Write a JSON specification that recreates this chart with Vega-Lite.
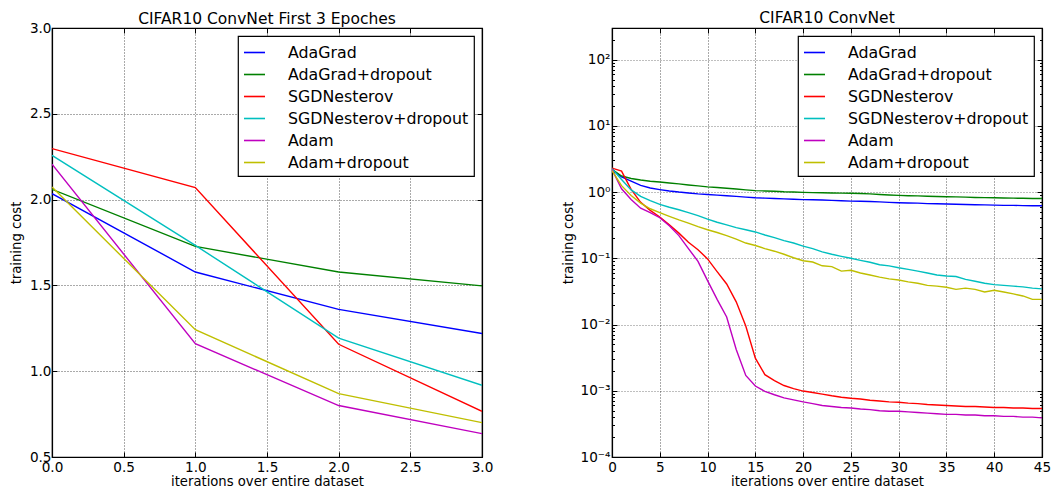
{
  "$schema": "https://vega.github.io/schema/vega-lite/v6.json",
  "padding": {"left": 8, "top": 10, "right": 0, "bottom": 0},
  "background": "#ffffff",
  "config": {
    "font": "DejaVu Sans",
    "view": {"stroke": "#000000", "strokeWidth": 1.2},
    "title": {"font": "DejaVu Sans", "fontSize": 15.5, "fontWeight": "normal", "color": "#000000", "anchor": "middle", "baseline": "alphabetic", "frame": "group"},
    "axis": {
      "domainColor": "#000000", "domainWidth": 1.2,
      "tickColor": "#000000", "tickSize": -5, "tickWidth": 1,
      "labelFont": "DejaVu Sans", "labelFontSize": 13.6, "labelColor": "#000000", "labelPadding": 8, "labelFlush": false,
      "titleFont": "DejaVu Sans", "titleFontSize": 13.2, "titleFontWeight": "normal", "titleColor": "#000000",
      "gridColor": "#000000", "gridDash": [1, 2], "gridOpacity": 0.75, "gridWidth": 0.9
    },
    "legend": {
      "orient": "top-right", "offset": 8, "fillColor": "#ffffff", "strokeColor": "#000000", "strokeWidth": 1.2,
      "padding": 5, "cornerRadius": 0,
      "labelFont": "DejaVu Sans", "labelFontSize": 15.8, "labelColor": "#000000", "labelLimit": 400,
      "symbolType": "stroke", "symbolSize": 441, "symbolStrokeWidth": 1.6, "labelOffset": 22, "rowPadding": 2
    }
  },
  "datasets": {
    "first3": [
      {"epoch": 0, "AdaGrad": 2.035, "AdaGrad+dropout": 2.06, "SGDNesterov": 2.297, "SGDNesterov+dropout": 2.258, "Adam": 2.206, "Adam+dropout": 2.073},
      {"epoch": 1, "AdaGrad": 1.578, "AdaGrad+dropout": 1.727, "SGDNesterov": 2.07, "SGDNesterov+dropout": 1.733, "Adam": 1.16, "Adam+dropout": 1.242},
      {"epoch": 2, "AdaGrad": 1.36, "AdaGrad+dropout": 1.578, "SGDNesterov": 1.157, "SGDNesterov+dropout": 1.193, "Adam": 0.8, "Adam+dropout": 0.869},
      {"epoch": 3, "AdaGrad": 1.22, "AdaGrad+dropout": 1.497, "SGDNesterov": 0.766, "SGDNesterov+dropout": 0.918, "Adam": 0.636, "Adam+dropout": 0.7}
    ],
    "full": [
      {"epoch": 0, "AdaGrad": 2.2, "AdaGrad+dropout": 2.2, "SGDNesterov": 2.3, "SGDNesterov+dropout": 2.25, "Adam": 2.2, "Adam+dropout": 2.1},
      {"epoch": 1, "AdaGrad": 1.69, "AdaGrad+dropout": 1.75, "SGDNesterov": 2.07, "SGDNesterov+dropout": 1.55, "Adam": 1.12, "Adam+dropout": 1.25},
      {"epoch": 2, "AdaGrad": 1.46, "AdaGrad+dropout": 1.6, "SGDNesterov": 1.1, "SGDNesterov+dropout": 1.08, "Adam": 0.77, "Adam+dropout": 0.89},
      {"epoch": 3, "AdaGrad": 1.26, "AdaGrad+dropout": 1.52, "SGDNesterov": 0.7, "SGDNesterov+dropout": 0.86, "Adam": 0.57, "Adam+dropout": 0.68},
      {"epoch": 4, "AdaGrad": 1.15, "AdaGrad+dropout": 1.46, "SGDNesterov": 0.53, "SGDNesterov+dropout": 0.74, "Adam": 0.49, "Adam+dropout": 0.56},
      {"epoch": 5, "AdaGrad": 1.09, "AdaGrad+dropout": 1.42, "SGDNesterov": 0.42, "SGDNesterov+dropout": 0.65, "Adam": 0.41, "Adam+dropout": 0.49},
      {"epoch": 6, "AdaGrad": 1.04, "AdaGrad+dropout": 1.37, "SGDNesterov": 0.32, "SGDNesterov+dropout": 0.59, "Adam": 0.31, "Adam+dropout": 0.43},
      {"epoch": 7, "AdaGrad": 1.0, "AdaGrad+dropout": 1.33, "SGDNesterov": 0.24, "SGDNesterov+dropout": 0.54, "Adam": 0.22, "Adam+dropout": 0.38},
      {"epoch": 8, "AdaGrad": 0.97, "AdaGrad+dropout": 1.28, "SGDNesterov": 0.175, "SGDNesterov+dropout": 0.49, "Adam": 0.14, "Adam+dropout": 0.34},
      {"epoch": 9, "AdaGrad": 0.94, "AdaGrad+dropout": 1.24, "SGDNesterov": 0.135, "SGDNesterov+dropout": 0.44, "Adam": 0.09, "Adam+dropout": 0.3},
      {"epoch": 10, "AdaGrad": 0.92, "AdaGrad+dropout": 1.2, "SGDNesterov": 0.098, "SGDNesterov+dropout": 0.39, "Adam": 0.046, "Adam+dropout": 0.27},
      {"epoch": 11, "AdaGrad": 0.9, "AdaGrad+dropout": 1.17, "SGDNesterov": 0.063, "SGDNesterov+dropout": 0.35, "Adam": 0.024, "Adam+dropout": 0.245},
      {"epoch": 12, "AdaGrad": 0.88, "AdaGrad+dropout": 1.14, "SGDNesterov": 0.041, "SGDNesterov+dropout": 0.32, "Adam": 0.013, "Adam+dropout": 0.22},
      {"epoch": 13, "AdaGrad": 0.86, "AdaGrad+dropout": 1.11, "SGDNesterov": 0.022, "SGDNesterov+dropout": 0.29, "Adam": 0.0042, "Adam+dropout": 0.195},
      {"epoch": 14, "AdaGrad": 0.84, "AdaGrad+dropout": 1.08, "SGDNesterov": 0.0095, "SGDNesterov+dropout": 0.27, "Adam": 0.0017, "Adam+dropout": 0.17},
      {"epoch": 15, "AdaGrad": 0.82, "AdaGrad+dropout": 1.05, "SGDNesterov": 0.0031, "SGDNesterov+dropout": 0.25, "Adam": 0.00118, "Adam+dropout": 0.156},
      {"epoch": 16, "AdaGrad": 0.81, "AdaGrad+dropout": 1.04, "SGDNesterov": 0.00175, "SGDNesterov+dropout": 0.225, "Adam": 0.00098, "Adam+dropout": 0.14},
      {"epoch": 17, "AdaGrad": 0.8, "AdaGrad+dropout": 1.03, "SGDNesterov": 0.00142, "SGDNesterov+dropout": 0.205, "Adam": 0.00087, "Adam+dropout": 0.128},
      {"epoch": 18, "AdaGrad": 0.79, "AdaGrad+dropout": 1.01, "SGDNesterov": 0.0012, "SGDNesterov+dropout": 0.185, "Adam": 0.00078, "Adam+dropout": 0.115},
      {"epoch": 19, "AdaGrad": 0.78, "AdaGrad+dropout": 1.0, "SGDNesterov": 0.00108, "SGDNesterov+dropout": 0.17, "Adam": 0.00073, "Adam+dropout": 0.102},
      {"epoch": 20, "AdaGrad": 0.77, "AdaGrad+dropout": 0.99, "SGDNesterov": 0.00099, "SGDNesterov+dropout": 0.153, "Adam": 0.00068, "Adam+dropout": 0.092},
      {"epoch": 21, "AdaGrad": 0.765, "AdaGrad+dropout": 0.98, "SGDNesterov": 0.00094, "SGDNesterov+dropout": 0.14, "Adam": 0.00064, "Adam+dropout": 0.088},
      {"epoch": 22, "AdaGrad": 0.76, "AdaGrad+dropout": 0.975, "SGDNesterov": 0.00089, "SGDNesterov+dropout": 0.125, "Adam": 0.0006, "Adam+dropout": 0.077},
      {"epoch": 23, "AdaGrad": 0.75, "AdaGrad+dropout": 0.97, "SGDNesterov": 0.00084, "SGDNesterov+dropout": 0.115, "Adam": 0.00058, "Adam+dropout": 0.075},
      {"epoch": 24, "AdaGrad": 0.74, "AdaGrad+dropout": 0.965, "SGDNesterov": 0.0008, "SGDNesterov+dropout": 0.107, "Adam": 0.00056, "Adam+dropout": 0.064},
      {"epoch": 25, "AdaGrad": 0.73, "AdaGrad+dropout": 0.96, "SGDNesterov": 0.00077, "SGDNesterov+dropout": 0.1, "Adam": 0.00055, "Adam+dropout": 0.066},
      {"epoch": 26, "AdaGrad": 0.725, "AdaGrad+dropout": 0.95, "SGDNesterov": 0.00075, "SGDNesterov+dropout": 0.093, "Adam": 0.00053, "Adam+dropout": 0.06},
      {"epoch": 27, "AdaGrad": 0.72, "AdaGrad+dropout": 0.94, "SGDNesterov": 0.00072, "SGDNesterov+dropout": 0.087, "Adam": 0.00052, "Adam+dropout": 0.056},
      {"epoch": 28, "AdaGrad": 0.71, "AdaGrad+dropout": 0.92, "SGDNesterov": 0.0007, "SGDNesterov+dropout": 0.08, "Adam": 0.0005, "Adam+dropout": 0.052},
      {"epoch": 29, "AdaGrad": 0.7, "AdaGrad+dropout": 0.905, "SGDNesterov": 0.00068, "SGDNesterov+dropout": 0.077, "Adam": 0.00049, "Adam+dropout": 0.049},
      {"epoch": 30, "AdaGrad": 0.69, "AdaGrad+dropout": 0.89, "SGDNesterov": 0.00067, "SGDNesterov+dropout": 0.072, "Adam": 0.00049, "Adam+dropout": 0.047},
      {"epoch": 31, "AdaGrad": 0.685, "AdaGrad+dropout": 0.88, "SGDNesterov": 0.00065, "SGDNesterov+dropout": 0.068, "Adam": 0.00048, "Adam+dropout": 0.044},
      {"epoch": 32, "AdaGrad": 0.68, "AdaGrad+dropout": 0.875, "SGDNesterov": 0.00064, "SGDNesterov+dropout": 0.064, "Adam": 0.00047, "Adam+dropout": 0.042},
      {"epoch": 33, "AdaGrad": 0.67, "AdaGrad+dropout": 0.865, "SGDNesterov": 0.00062, "SGDNesterov+dropout": 0.06, "Adam": 0.00046, "Adam+dropout": 0.039},
      {"epoch": 34, "AdaGrad": 0.665, "AdaGrad+dropout": 0.855, "SGDNesterov": 0.00061, "SGDNesterov+dropout": 0.056, "Adam": 0.00045, "Adam+dropout": 0.038},
      {"epoch": 35, "AdaGrad": 0.66, "AdaGrad+dropout": 0.85, "SGDNesterov": 0.0006, "SGDNesterov+dropout": 0.054, "Adam": 0.00044, "Adam+dropout": 0.0365},
      {"epoch": 36, "AdaGrad": 0.655, "AdaGrad+dropout": 0.845, "SGDNesterov": 0.00059, "SGDNesterov+dropout": 0.053, "Adam": 0.00044, "Adam+dropout": 0.034},
      {"epoch": 37, "AdaGrad": 0.65, "AdaGrad+dropout": 0.84, "SGDNesterov": 0.00058, "SGDNesterov+dropout": 0.048, "Adam": 0.00043, "Adam+dropout": 0.0355},
      {"epoch": 38, "AdaGrad": 0.645, "AdaGrad+dropout": 0.83, "SGDNesterov": 0.00058, "SGDNesterov+dropout": 0.045, "Adam": 0.00043, "Adam+dropout": 0.034},
      {"epoch": 39, "AdaGrad": 0.64, "AdaGrad+dropout": 0.825, "SGDNesterov": 0.00057, "SGDNesterov+dropout": 0.042, "Adam": 0.00042, "Adam+dropout": 0.031},
      {"epoch": 40, "AdaGrad": 0.635, "AdaGrad+dropout": 0.82, "SGDNesterov": 0.00056, "SGDNesterov+dropout": 0.04, "Adam": 0.00042, "Adam+dropout": 0.033},
      {"epoch": 41, "AdaGrad": 0.63, "AdaGrad+dropout": 0.815, "SGDNesterov": 0.00056, "SGDNesterov+dropout": 0.039, "Adam": 0.00041, "Adam+dropout": 0.031},
      {"epoch": 42, "AdaGrad": 0.63, "AdaGrad+dropout": 0.81, "SGDNesterov": 0.00055, "SGDNesterov+dropout": 0.038, "Adam": 0.00041, "Adam+dropout": 0.029},
      {"epoch": 43, "AdaGrad": 0.625, "AdaGrad+dropout": 0.805, "SGDNesterov": 0.00055, "SGDNesterov+dropout": 0.037, "Adam": 0.0004, "Adam+dropout": 0.027},
      {"epoch": 44, "AdaGrad": 0.62, "AdaGrad+dropout": 0.8, "SGDNesterov": 0.00054, "SGDNesterov+dropout": 0.0355, "Adam": 0.0004, "Adam+dropout": 0.024},
      {"epoch": 45, "AdaGrad": 0.62, "AdaGrad+dropout": 0.8, "SGDNesterov": 0.00054, "SGDNesterov+dropout": 0.0345, "Adam": 0.00039, "Adam+dropout": 0.024}
    ]
  },
  "spacing": 66,
  "resolve": {"scale": {"color": "independent"}, "legend": {"color": "independent"}},
  "hconcat": [
    {
      "width": 430,
      "height": 429,
      "title": {"text": "CIFAR10 ConvNet First 3 Epoches", "offset": -6},
      "data": {"name": "first3"},
      "transform": [
        {"fold": ["AdaGrad", "AdaGrad+dropout", "SGDNesterov", "SGDNesterov+dropout", "Adam", "Adam+dropout"], "as": ["method", "cost"]}
      ],
      "layer": [
        {
          "mark": {"type": "line", "strokeWidth": 1.4, "clip": true},
          "encoding": {
            "x": {"field": "epoch", "type": "quantitative", "scale": {"domain": [0, 3], "nice": false},
                  "axis": {"orient": "bottom", "title": "iterations over entire dataset", "values": [0, 0.5, 1, 1.5, 2, 2.5, 3], "format": ".1f", "grid": true, "titlePadding": 2}},
            "y": {"field": "cost", "type": "quantitative", "scale": {"domain": [0.5, 3], "nice": false, "zero": false},
                  "axis": {"orient": "left", "title": "training cost", "values": [0.5, 1, 1.5, 2, 2.5, 3], "format": ".1f", "grid": true, "labelPadding": 6, "titlePadding": 6}},
            "color": {"field": "method", "type": "nominal",
                      "scale": {"domain": ["AdaGrad", "AdaGrad+dropout", "SGDNesterov", "SGDNesterov+dropout", "Adam", "Adam+dropout"],
                                "range": ["#0000ff", "#008000", "#ff0000", "#00bfbf", "#bf00bf", "#bfbf00"]},
                      "legend": {"title": null}}
          }
        },
        {
          "mark": {"type": "point", "opacity": 0},
          "encoding": {
            "x": {"field": "epoch", "type": "quantitative", "axis": {"orient": "top", "title": null, "labels": false, "grid": false, "values": [0, 0.5, 1, 1.5, 2, 2.5, 3]}},
            "y": {"field": "cost", "type": "quantitative", "axis": {"orient": "right", "title": null, "labels": false, "grid": false, "values": [0.5, 1, 1.5, 2, 2.5, 3]}}
          }
        }
      ],
      "resolve": {"axis": {"x": "independent", "y": "independent"}}
    },
    {
      "width": 430,
      "height": 429,
      "title": {"text": "CIFAR10 ConvNet", "offset": 1},
      "data": {"name": "full"},
      "transform": [
        {"fold": ["AdaGrad", "AdaGrad+dropout", "SGDNesterov", "SGDNesterov+dropout", "Adam", "Adam+dropout"], "as": ["method", "cost"]}
      ],
      "layer": [
        {
          "mark": {"type": "line", "strokeWidth": 1.4, "clip": true},
          "encoding": {
            "x": {"field": "epoch", "type": "quantitative", "scale": {"domain": [0, 45], "nice": false},
                  "axis": {"orient": "bottom", "title": "iterations over entire dataset", "values": [0, 5, 10, 15, 20, 25, 30, 35, 40, 45], "format": "d", "grid": true, "titlePadding": 2}},
            "y": {"field": "cost", "type": "quantitative", "scale": {"type": "log", "domain": [0.0001, 300], "nice": false},
                  "axis": {
                    "orient": "left", "title": "training cost", "grid": true, "labelPadding": 7, "titlePadding": 5,
                    "values": [0.0001, 0.0002, 0.0003, 0.0004, 0.0005, 0.0006, 0.0007, 0.0008, 0.0009, 0.001, 0.002, 0.003, 0.004, 0.005, 0.006, 0.007, 0.008, 0.009, 0.01, 0.02, 0.03, 0.04, 0.05, 0.06, 0.07, 0.08, 0.09, 0.1, 0.2, 0.3, 0.4, 0.5, 0.6, 0.7, 0.8, 0.9, 1, 2, 3, 4, 5, 6, 7, 8, 9, 10, 20, 30, 40, 50, 60, 70, 80, 90, 100, 200, 300],
                    "labelExpr": "abs(log(datum.value)/LN10 - round(log(datum.value)/LN10)) > 0.001 ? '' : '10' + (datum.value < 0.5 ? '⁻' : '') + substring('⁰¹²³⁴', abs(round(log(datum.value)/LN10)), abs(round(log(datum.value)/LN10)) + 1)",
                    "gridOpacity": {"condition": {"test": "abs(log(datum.value)/LN10 - round(log(datum.value)/LN10)) > 0.001", "value": 0}, "value": 0.75},
                    "tickSize": {"condition": {"test": "abs(log(datum.value)/LN10 - round(log(datum.value)/LN10)) > 0.001", "value": -2.5}, "value": -5}
                  }},
            "color": {"field": "method", "type": "nominal",
                      "scale": {"domain": ["AdaGrad", "AdaGrad+dropout", "SGDNesterov", "SGDNesterov+dropout", "Adam", "Adam+dropout"],
                                "range": ["#0000ff", "#008000", "#ff0000", "#00bfbf", "#bf00bf", "#bfbf00"]},
                      "legend": {"title": null}}
          }
        },
        {
          "mark": {"type": "point", "opacity": 0},
          "encoding": {
            "x": {"field": "epoch", "type": "quantitative", "axis": {"orient": "top", "title": null, "labels": false, "grid": false, "values": [0, 5, 10, 15, 20, 25, 30, 35, 40, 45]}},
            "y": {"field": "cost", "type": "quantitative",
                  "axis": {
                    "orient": "right", "title": null, "labels": false, "grid": false,
                    "values": [0.0001, 0.0002, 0.0003, 0.0004, 0.0005, 0.0006, 0.0007, 0.0008, 0.0009, 0.001, 0.002, 0.003, 0.004, 0.005, 0.006, 0.007, 0.008, 0.009, 0.01, 0.02, 0.03, 0.04, 0.05, 0.06, 0.07, 0.08, 0.09, 0.1, 0.2, 0.3, 0.4, 0.5, 0.6, 0.7, 0.8, 0.9, 1, 2, 3, 4, 5, 6, 7, 8, 9, 10, 20, 30, 40, 50, 60, 70, 80, 90, 100, 200, 300],
                    "tickSize": {"condition": {"test": "abs(log(datum.value)/LN10 - round(log(datum.value)/LN10)) > 0.001", "value": -2.5}, "value": -5}
                  }}
          }
        }
      ],
      "resolve": {"axis": {"x": "independent", "y": "independent"}}
    }
  ]
}
